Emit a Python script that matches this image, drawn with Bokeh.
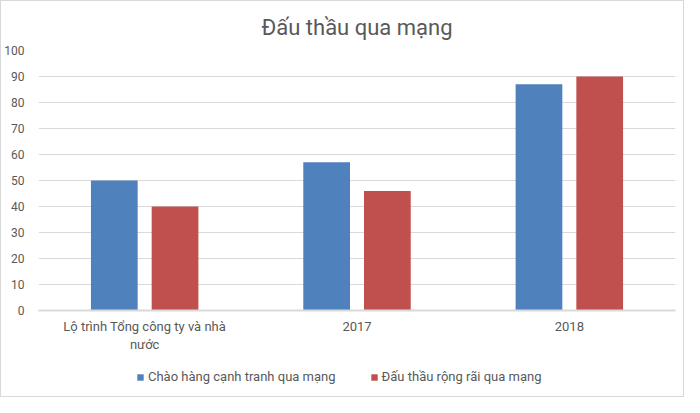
from bokeh.plotting import figure
from bokeh.layouts import column
from bokeh.models import FactorRange, Legend, LegendItem, ColumnDataSource, FixedTicker, Range1d
from bokeh.transform import dodge
from bokeh.embed import file_html
from bokeh.resources import INLINE

categories = ["Lộ trình Tổng công ty và nhà\nnước", "2017", "2018"]
series_names = ["Chào hàng cạnh tranh qua mạng", "Đấu thầu rộng rãi qua mạng"]
chao_hang = [50, 57, 87]
dau_thau = [40, 46, 90]
y_ticks = [0, 10, 20, 30, 40, 50, 60, 70, 80, 90, 100]
colors = ["#4f81bd", "#c0504d"]

FONT = "Roboto"
TXT = "#595959"
GRID = "#d9d9d9"

src = ColumnDataSource(data=dict(cat=categories, a=chao_hang, b=dau_thau))

# main chart
p = figure(x_range=FactorRange(*categories, range_padding=0), y_range=(0, 100),
           width=682, height=355, output_backend="svg", toolbar_location=None,
           title="Đấu thầu qua mạng",
           min_border_left=33, min_border_right=8, min_border_top=48, min_border_bottom=46)

p.vbar(x=dodge("cat", -0.143, range=p.x_range), top="a", width=0.22, source=src,
       fill_color=colors[0], line_color=None)
p.vbar(x=dodge("cat", 0.143, range=p.x_range), top="b", width=0.22, source=src,
       fill_color=colors[1], line_color=None)

p.title.align = "center"
p.title.text_font = FONT
p.title.text_font_size = "22px"
p.title.text_font_style = "normal"
p.title.text_color = TXT
p.title.standoff = 22

p.outline_line_color = None
p.background_fill_color = "white"
p.border_fill_color = "white"

p.xgrid.grid_line_color = None
p.ygrid.grid_line_color = GRID
p.ygrid.grid_line_width = 1

p.yaxis.ticker = FixedTicker(ticks=y_ticks)
p.yaxis.axis_line_color = None
p.yaxis.major_tick_line_color = None
p.yaxis.minor_tick_line_color = None
p.yaxis.major_label_text_font = FONT
p.yaxis.major_label_text_font_size = "12px"
p.yaxis.major_label_text_color = TXT
p.yaxis.major_label_standoff = 8

p.xaxis.axis_line_color = GRID
p.xaxis.axis_line_width = 2
p.xaxis.major_tick_line_color = None
p.xaxis.minor_tick_line_color = None
p.xaxis.major_label_text_font = FONT
p.xaxis.major_label_text_font_size = "13px"
p.xaxis.major_label_text_color = TXT
p.xaxis.major_label_standoff = 2

# legend strip below the chart
lg = figure(x_range=FactorRange(*categories, range_padding=0), y_range=Range1d(1000, 1001),
            width=682, height=40, output_backend="svg", toolbar_location=None,
            min_border=0, min_border_left=0, min_border_right=0,
            min_border_top=0, min_border_bottom=0)
lg.axis.visible = False
lg.grid.visible = False
lg.outline_line_color = None
lg.background_fill_color = "white"
lg.border_fill_color = "white"
d1 = lg.vbar(x=dodge("cat", -0.143, range=lg.x_range), top="a", width=0.22, source=src,
             fill_color=colors[0], line_color=None)
d2 = lg.vbar(x=dodge("cat", 0.143, range=lg.x_range), top="b", width=0.22, source=src,
             fill_color=colors[1], line_color=None)

legend = Legend(items=[LegendItem(label=series_names[0], renderers=[d1]),
                       LegendItem(label=series_names[1], renderers=[d2])],
                orientation="horizontal", location=(98, 12),
                glyph_width=8, glyph_height=8, label_text_font=FONT,
                label_text_font_size="13px", label_text_color=TXT,
                label_standoff=4, spacing=34, margin=0, padding=0,
                border_line_color=None, background_fill_alpha=0)
lg.add_layout(legend, "center")

layout = column(p, lg, spacing=0, styles={"border": "1px solid #d9d9d9"})

open("out.html", "w").write(file_html(layout, INLINE))
